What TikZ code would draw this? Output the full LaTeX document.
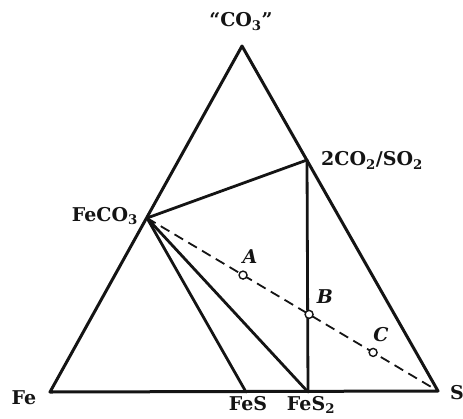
\documentclass[tikz,border=0pt]{standalone}
\usepackage{fontspec}
\setmainfont{DejaVu Serif}
\usetikzlibrary{calc}
\definecolor{inkBlack}{RGB}{20,20,20}

\begin{document}
\begin{tikzpicture}[
  x=1pt, y=-1pt,
  font=\fontsize{19}{22}\selectfont\bfseries,
  corner/.style={inner sep=1pt, text=inkBlack},
  ptlabel/.style={font=\fontsize{19}{22}\selectfont\bfseries\itshape, text=inkBlack},
  edge/.style={draw=inkBlack, line width=3pt, line cap=round, line join=round},
  tie/.style={draw=inkBlack, line width=2.8pt, line cap=round},
  mix/.style={draw=inkBlack, line width=1.8pt, dash pattern=on 10pt off 6pt},
  sample/.style={circle, draw=inkBlack, fill=white, line width=1.4pt, inner sep=0pt, minimum size=8pt}
]
\useasboundingbox (0,0) rectangle (463,418);

% Corners of the composition triangle.
\coordinate (co3) at (242,46);
\coordinate (fe) at (50,392);
\coordinate (s) at (438,391);

% Phases on the sides.
\coordinate (feco3) at (147,218);
\coordinate (gas) at (307,160);
\coordinate (fes) at (246,392);
\coordinate (fes2) at (308,392);

% Triangle.
\draw[edge] (fe) -- (co3) -- (s) -- cycle;

% Tie lines.
\draw[tie] (feco3) -- (gas);
\draw[tie] (gas) -- (fes2);
\draw[tie] (feco3) -- (fes);
\draw[tie] (feco3) -- (fes2);

% Bulk compositions along the FeCO3 -- S join.
\draw[mix] (feco3) -- (s);
\node[sample] (ptA) at ($(feco3)!0.33!(s)$) {};
\node[sample] (ptB) at ($(feco3)!0.557!(s)$) {};
\node[sample] (ptC) at ($(feco3)!0.777!(s)$) {};

% Labels.
\node[corner] (lco3) at (241,22) {\textquotedblleft CO\textsubscript{3}\textquotedblright};
\node[corner, anchor=west] (lgas) at (320,160) {2CO\textsubscript{2}/SO\textsubscript{2}};
\node[corner, anchor=east] (lfeco3) at (139,216) {FeCO\textsubscript{3}};
\node[corner] (lfe) at (24,398) {Fe};
\node[corner, anchor=west] (ls) at (449,393) {S};
\node[corner, anchor=base] (lfes) at (248,410) {FeS};
\node[corner, anchor=base] (lfes2) at (311,410) {FeS\textsubscript{2}};
\node[ptlabel] (lA) at (250,257) {A};
\node[ptlabel] (lB) at (325,297) {B};
\node[ptlabel] (lC) at (381,335) {C};
\end{tikzpicture}
\end{document}
